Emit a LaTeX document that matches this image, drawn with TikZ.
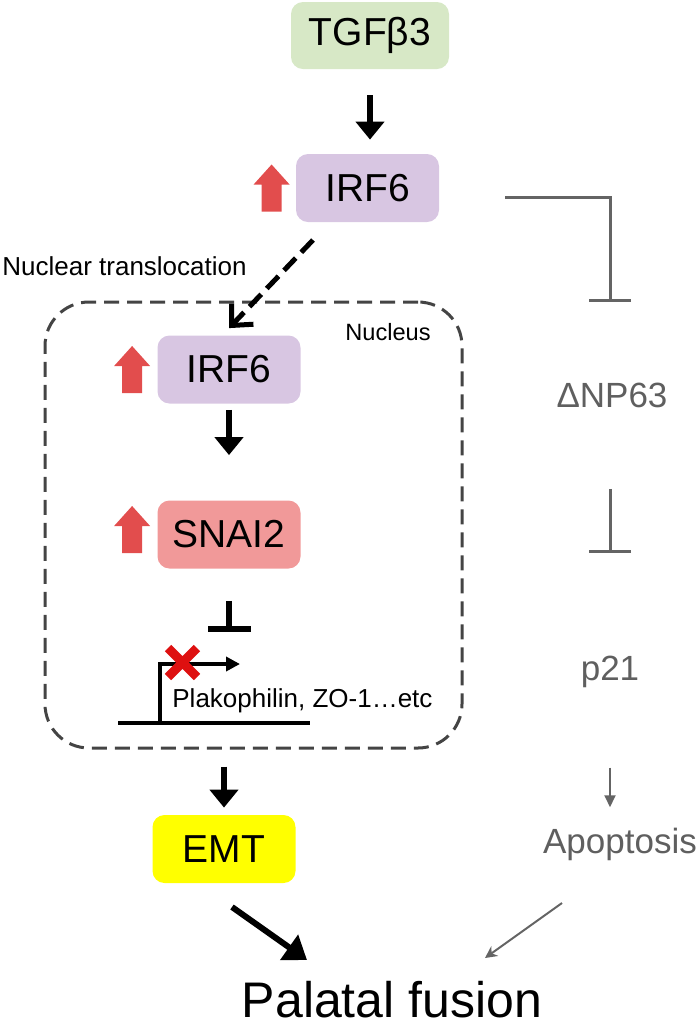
\documentclass[tikz,border=0pt]{standalone}
\usepackage{fontspec}
\setmainfont{Liberation Sans}
\usetikzlibrary{arrows.meta,calc}

\definecolor{tgfgreen}{RGB}{215,232,198}
\definecolor{irfpurple}{RGB}{216,198,226}
\definecolor{snaipink}{RGB}{241,153,153}
\definecolor{emtyellow}{RGB}{255,255,0}
\definecolor{upred}{RGB}{226,77,77}
\definecolor{xred}{RGB}{222,16,16}
\definecolor{nucgray}{RGB}{68,68,68}
\definecolor{pathgray}{RGB}{100,100,100}
\definecolor{textgray}{RGB}{95,95,95}

\tikzset{
  gbox/.style={rounded corners=6pt, minimum width=71.5pt, minimum height=34pt,
    inner sep=0pt, font=\fontsize{19.5pt}{23pt}\selectfont},
  act/.style={line width=3pt, -{Triangle[width=14pt,length=9pt]}},
  blk/.style={line width=3pt, -{Bar[width=21.5pt]}},
  transloc/.style={line width=2.5pt, dash pattern=on 8.5pt off 4pt,
    -{Straight Barb[width=15pt,length=8pt]}},
  inhib/.style={draw=pathgray, line width=1.5pt, -{Bar[width=21pt]}},
  grayact/.style={draw=pathgray, line width=1pt, -{Triangle[width=5.5pt,length=6pt]}},
  sidetext/.style={text=textgray, inner sep=0pt, font=\fontsize{17.5pt}{21pt}\selectfont},
  smalltext/.style={inner sep=0pt, font=\fontsize{13pt}{15pt}\selectfont},
  uparr/.pic={\fill[upred] (-10,23.5) -- (-10,-3.5) -- (-18,-3.5) -- (0,-23.5)
    -- (18,-3.5) -- (10,-3.5) -- (10,23.5) -- cycle;}
}

\begin{document}
\begin{tikzpicture}[x=0.5pt,y=-0.5pt]
\useasboundingbox (0,0) rectangle (700,1025);

\node[draw=nucgray, line width=1.5pt, dash pattern=on 7.5pt off 4pt, rounded corners=22pt,
  minimum width=208.5pt, minimum height=223pt] (nuc) at (253.5,525) {};
\node[smalltext, anchor=base west, font=\fontsize{11.8pt}{14pt}\selectfont] (nuclbl) at (345,340) {Nucleus};

\node[gbox, fill=tgfgreen, minimum width=79pt, minimum height=33.5pt] (tgf) at (370,35.5) {TGFβ3};
\node[gbox, fill=irfpurple] (irfa) at (367.5,188) {IRF6};
\node[gbox, fill=irfpurple] (irfb) at (229,369.5) {IRF6};
\node[gbox, fill=snaipink] (snai) at (229,534.5) {SNAI2};
\node[gbox, fill=emtyellow] (emt) at (224,849) {EMT};

\pic at ($(irfa.west)+(-24,0)$) {uparr};
\pic at ($(irfb.west)+(-25,0)$) {uparr};
\pic at ($(snai.west)+(-25,-5)$) {uparr};

\draw[act, shorten <=13pt, shorten >=7pt] (tgf.south) -- (tgf.south |- irfa.north);
\node[smalltext, anchor=base west] (transl) at (2,275) {Nuclear translocation};
\coordinate (tstart) at (313,240);
\draw[transloc] (tstart) -- ([yshift=3.5pt]irfb.north);
\draw[act, shorten <=3pt, shorten >=22.5pt] (irfb.south) -- (snai.north);

\coordinate (geneL) at (118,723);
\coordinate (geneR) at (310,723);
\coordinate (tss) at (160,723);
\draw[blk, shorten <=16pt, shorten >=45.5pt] (snai.south) -- (snai.south |- tss);
\draw[line width=2pt] (geneL) -- (geneR);
\draw[line width=2pt, -{Triangle[width=7pt,length=7pt]}] (tss) -- ++(0,-59) -- ++(80,0);
\draw[xred, line width=4.5pt] (168,648) -- (197,677) (197,648) -- (168,677);
\node[smalltext, anchor=base west] (genes) at (172,707) {Plakophilin, ZO-1…etc};

\draw[act, shorten <=8.5pt, shorten >=3.5pt] (emt.north |- nuc.south) -- (emt.north);

\node[sidetext, anchor=base] (dnp) at (612,407) {ΔNP63};
\node[sidetext, anchor=base] (p21) at (610,680) {p21};
\node[sidetext, anchor=base] (apo) at (620,853) {Apoptosis};
\coordinate (irfout) at (505,197);
\draw[inhib] (irfout) -| ([yshift=40pt]dnp.north -| p21.north);
\draw[inhib, shorten <=40.5pt, shorten >=51pt] (dnp.south -| p21.south) -- (p21.north);
\draw[grayact, shorten <=40pt, shorten >=10pt] (p21.south) -- (p21.south |- apo.north);

\node[inner sep=0pt, anchor=base, font=\fontsize{25pt}{30pt}\selectfont] (pfus) at (392,1017) {Palatal fusion};
\coordinate (emtout) at (232,907);
\coordinate (pfin) at (307,960);
\draw[line width=3pt, -{Triangle[width=15pt,length=11pt]}] (emtout) -- (pfin);
\coordinate (apoout) at (562,903);
\coordinate (pfin2) at (485,958);
\draw[draw=pathgray, line width=1pt, -{Stealth[width=6pt,length=6pt]}] (apoout) -- (pfin2);
\end{tikzpicture}
\end{document}
